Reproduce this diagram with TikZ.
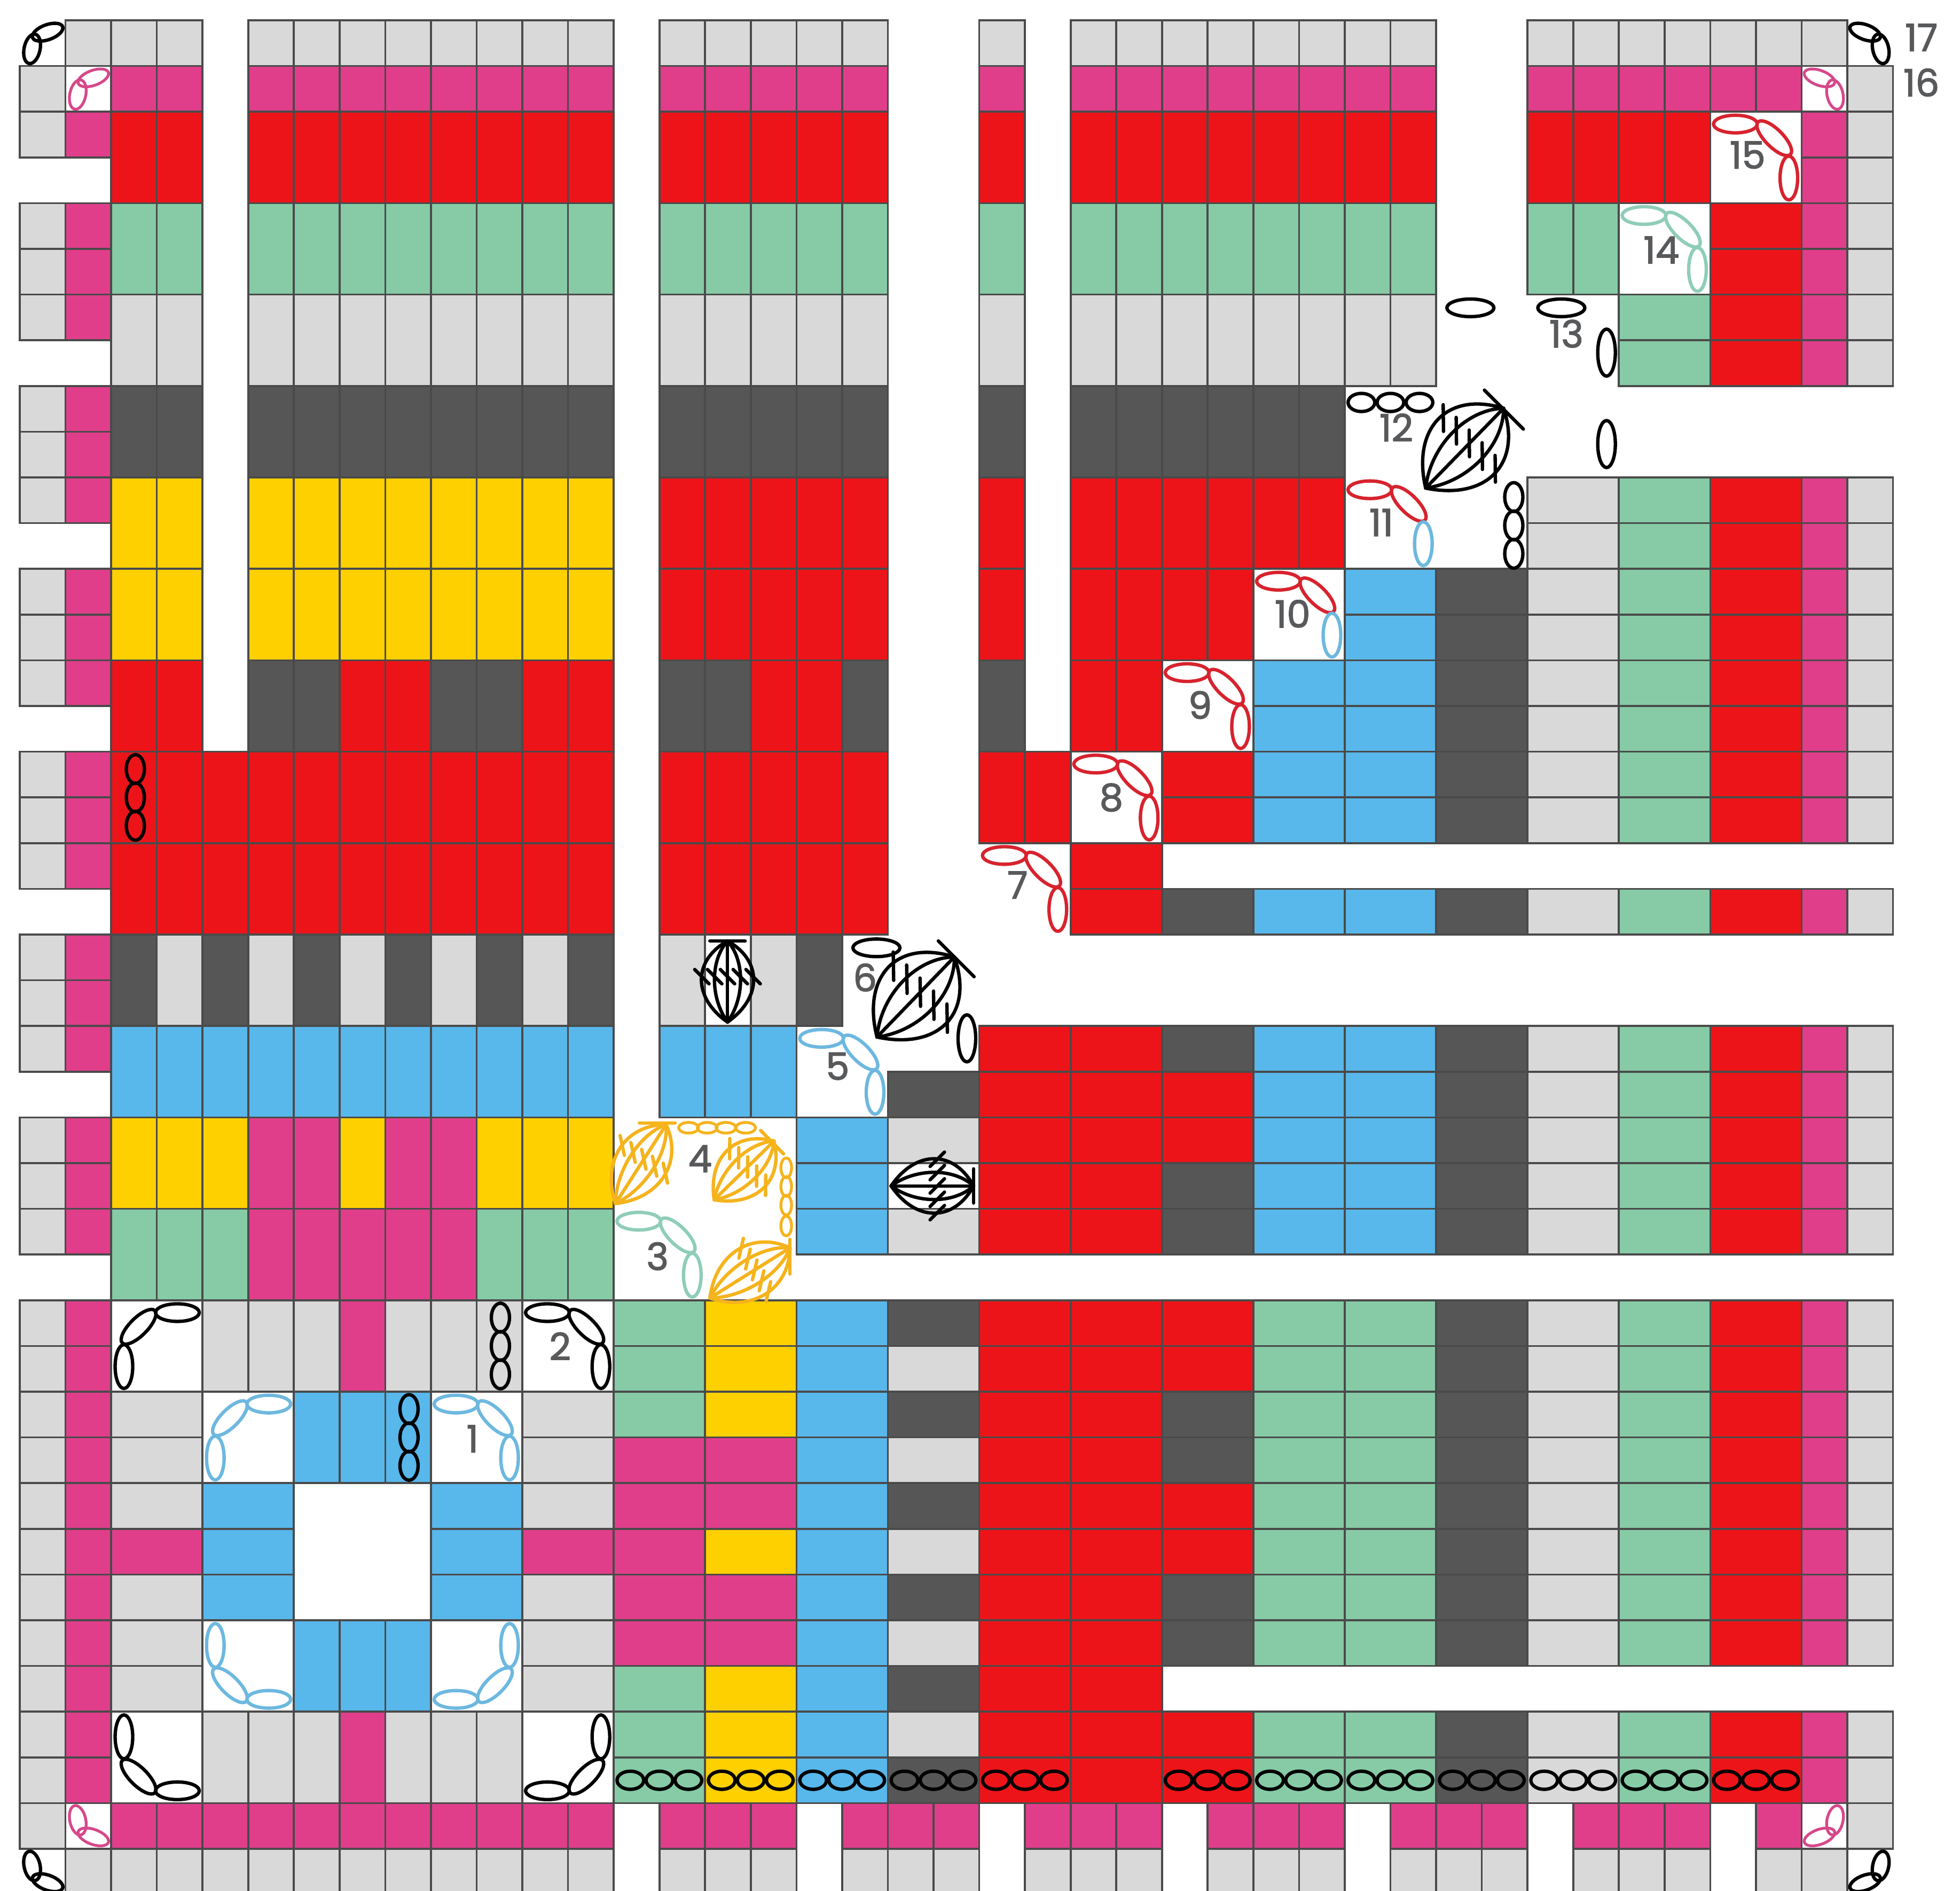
\documentclass[tikz,border=0pt]{standalone}
\usepackage{fontspec}
\setmainfont{Poppins}
\newfontfamily\labfont[FakeBold=2]{Poppins}
\definecolor{cgrey}{HTML}{D9D9D9}
\definecolor{cpink}{HTML}{E03E8B}
\definecolor{cred}{HTML}{ED1419}
\definecolor{cgreen}{HTML}{86CBA6}
\definecolor{cdark}{HTML}{575656}
\definecolor{cyel}{HTML}{FFD000}
\definecolor{cblue}{HTML}{58B7EB}
\definecolor{clin}{HTML}{4A4A4A}
\definecolor{chred}{HTML}{D7232E}
\definecolor{chblue}{HTML}{6DB8DF}
\definecolor{chteal}{HTML}{8FCDB8}
\definecolor{chpink}{HTML}{D6488A}
\definecolor{chorg}{HTML}{F5B31C}
\definecolor{clab}{HTML}{58595B}
\tikzset{
  cellb/.style={draw=clin,line width=1.05pt,line join=miter},
  chn/.style={line width=1.8pt},
  chnthin/.style={line width=1.5pt},
  lab/.style={text=clab,font=\labfont\fontsize{20}{20}\selectfont,inner sep=0pt,anchor=center},
}
% colour, first col, first row, n across, n down, cell w, cell h
\newcommand\Cb[7]{\foreach \i in {1,...,#4}{\foreach \j in {1,...,#5}{
  \draw[cellb,fill=#1] ({#2+(\i-1)*#6},{#3+(\j-1)*#7}) rectangle ++(#6,#7);}}}
\newcommand\Corner[6]{\begin{scope}[shift={(#1+1,#2+1)},xscale=#3,yscale=#4]
  \draw[chn,#5,shift={(-.45,-.73)}] (0,0) ellipse (.41cm and .165cm);
  \draw[chn,#5,shift={(.40,-.42)},rotate=-45] (0,0) ellipse (.43cm and .165cm);
  \draw[chn,#6,shift={(.72,.45)}] (0,0) ellipse (.165cm and .41cm);
\end{scope}}
\newcommand\SmallC[6]{\begin{scope}[shift={(#1+.5,#2+.5)},xscale=#3,yscale=#4]
  \draw[#6,#5,shift={(.11,-.24)},rotate=20] (0,0) ellipse (.3cm and .14cm);
  \draw[#6,#5,shift={(-.23,.125)},rotate=78] (0,0) ellipse (.28cm and .15cm);
\end{scope}}
\newcommand\HThree[2]{\foreach \k in {-1,0,1}{\draw[chn,black] ({#1+\k*.635},#2) ellipse (.25cm and .17cm);}}
\newcommand\VThree[2]{\foreach \k in {-1,0,1}{\draw[chn,black] (#1,{#2+\k*.62}) ellipse (.17cm and .27cm);}}
% colour, Tx,Ty,Fx,Fy, half width, tick spacing, tick length (in px scope)
\newcommand\Clus[8]{%
  \pgfmathsetmacro\cang{atan2(-(#5-#3),#4-#2)}%
  \pgfmathsetmacro\clen{veclen(#4-#2,#5-#3)}%
  \begin{scope}[shift={(#2,#3)},rotate=\cang,x=.01cm,y=.01cm,#1,line cap=round,line join=round]
    \foreach \s in {-1,-.5,0,.5,1}{
      \draw (0,0) .. controls ({.3*\clen},{\s*#6*1.36}) and ({.76*\clen},{\s*#6*1.36}) .. (\clen,0);}
    \foreach \s in {-2,-1,0,1,2}{
      \draw ({.56*\clen-.354*#8},{\s*#7-.354*#8}) -- ({.56*\clen+.354*#8},{\s*#7+.354*#8});}
  \end{scope}}
\begin{document}
\begin{tikzpicture}
\useasboundingbox (0,0) rectangle (36.7,-35.4);
\fill[white] (0,0) rectangle (36.7,-35.4);
\begin{scope}[shift={(0.37,-0.38)},x=0.8555cm,y=-0.856cm]
% left strip
\foreach \r in {2,4,5,6,8,9,10,12,13,14,16,17,18,20,21,22,24,25,26,28,29,30,31,32,33,34,35,36,37,38}{
  \Cb{cgrey}{0}{\r}{1}{1}{1}{1}\Cb{cpink}{1}{\r}{1}{1}{1}{1}}
\Cb{cgrey}{0}{1}{1}{1}{1}{1}
\Cb{cgrey}{0}{39}{1}{1}{1}{1}
% row 0 and 1
\foreach \c/\n in {1/3,5/8,14/5,21/1,23/8,33/7}{\Cb{cgrey}{\c}{0}{\n}{1}{1}{1}}
\foreach \c/\n in {2/2,5/8,14/5,21/1,23/8,33/6}{\Cb{cpink}{\c}{1}{\n}{1}{1}{1}}
\Cb{cgrey}{40}{1}{1}{1}{1}{1}
% spokes
\foreach \c/\n in {2/2,5/8,14/5,21/1,23/8,33/4}{\Cb{cred}{\c}{2}{\n}{1}{1}{2}}
\foreach \c/\n in {2/2,5/8,14/5,21/1,23/8,33/2}{\Cb{cgreen}{\c}{4}{\n}{1}{1}{2}}
\foreach \c/\n in {2/2,5/8,14/5,21/1,23/8}{\Cb{cgrey}{\c}{6}{\n}{1}{1}{2}}
\foreach \c/\n in {2/2,5/8,14/5,21/1,23/6}{\Cb{cdark}{\c}{8}{\n}{1}{1}{2}}
\foreach \c/\n in {2/2,5/8}{\Cb{cyel}{\c}{10}{\n}{1}{1}{2}\Cb{cyel}{\c}{12}{\n}{1}{1}{2}}
\foreach \c/\n in {14/5,21/1,23/6}{\Cb{cred}{\c}{10}{\n}{1}{1}{2}}
\foreach \c/\n in {14/5,21/1,23/4}{\Cb{cred}{\c}{12}{\n}{1}{1}{2}}
\foreach \c/\n in {2/2,7/2,11/2,16/2,23/2}{\Cb{cred}{\c}{14}{\n}{1}{1}{2}}
\foreach \c/\n in {5/2,9/2,14/2,18/1,21/1}{\Cb{cdark}{\c}{14}{\n}{1}{1}{2}}
\foreach \c/\n in {2/11,14/5,21/2}{\Cb{cred}{\c}{16}{\n}{1}{1}{2}}
\foreach \c/\n in {2/11,14/5}{\Cb{cred}{\c}{18}{\n}{1}{1}{2}}
\foreach \c in {2,4,6,8,10,12,17}{\Cb{cdark}{\c}{20}{1}{1}{1}{2}}
\foreach \c in {3,5,7,9,11,14,16}{\Cb{cgrey}{\c}{20}{1}{1}{1}{2}}
\foreach \c/\n in {2/11,14/3}{\Cb{cblue}{\c}{22}{\n}{1}{1}{2}}
\foreach \c/\n in {2/3,7/1,10/3}{\Cb{cyel}{\c}{24}{\n}{1}{1}{2}}
\foreach \c/\n in {5/2,8/2}{\Cb{cpink}{\c}{24}{\n}{1}{1}{2}}
\foreach \c/\n in {2/3,10/3}{\Cb{cgreen}{\c}{26}{\n}{1}{1}{2}}
\Cb{cpink}{5}{26}{5}{1}{1}{2}
% top right corner
\Cb{cpink}{39}{2}{1}{6}{1}{1}\Cb{cgrey}{40}{2}{1}{6}{1}{1}
\Cb{cred}{37}{4}{1}{4}{2}{1}
\Cb{cgreen}{35}{6}{1}{2}{2}{1}
% right-hand stripes
\foreach \r in {10,...,17,19,22,23,24,25,26,28,29,30,31,32,33,34,35,37,38}{
  \Cb{cgrey}{33}{\r}{1}{1}{2}{1}\Cb{cgreen}{35}{\r}{1}{1}{2}{1}\Cb{cred}{37}{\r}{1}{1}{2}{1}
  \Cb{cpink}{39}{\r}{1}{1}{1}{1}\Cb{cgrey}{40}{\r}{1}{1}{1}{1}}
\foreach \r in {12,...,17,19,22,23,24,25,26,28,29,30,31,32,33,34,35,37,38}{\Cb{cdark}{31}{\r}{1}{1}{2}{1}}
\foreach \r in {12,...,17,19,22,23,24,25,26}{\Cb{cblue}{29}{\r}{1}{1}{2}{1}}
\foreach \r in {14,...,17,19,22,23,24,25,26}{\Cb{cblue}{27}{\r}{1}{1}{2}{1}}
\foreach \r in {28,29,30,31,32,33,34,35,37,38}{\Cb{cgreen}{27}{\r}{2}{1}{2}{1}}
\foreach \r in {16,17,23,24,28,29,32,33,37,38}{\Cb{cred}{25}{\r}{1}{1}{2}{1}}
\foreach \r in {19,22,25,26,30,31,34,35}{\Cb{cdark}{25}{\r}{1}{1}{2}{1}}
\foreach \r in {18,19,22,23,24,25,26,28,29,...,38}{\Cb{cred}{23}{\r}{1}{1}{2}{1}}
\foreach \r in {22,23,24,25,26,28,29,...,38}{\Cb{cred}{21}{\r}{1}{1}{2}{1}}
\foreach \r in {24,25,26,28,29,...,38}{\Cb{cblue}{17}{\r}{1}{1}{2}{1}}
\foreach \r in {23,28,30,32,34,36,38}{\Cb{cdark}{19}{\r}{1}{1}{2}{1}}
\foreach \r in {24,26,29,31,33,35,37}{\Cb{cgrey}{19}{\r}{1}{1}{2}{1}}
\foreach \r in {28,29,30,36,37,38}{\Cb{cgreen}{13}{\r}{1}{1}{2}{1}\Cb{cyel}{15}{\r}{1}{1}{2}{1}}
\foreach \r in {31,32,34,35}{\Cb{cpink}{13}{\r}{2}{1}{2}{1}}
\Cb{cpink}{13}{33}{1}{1}{2}{1}\Cb{cyel}{15}{33}{1}{1}{2}{1}
% bottom-left square
\foreach \c/\n in {4/3,8/3}{\Cb{cgrey}{\c}{28}{\n}{1}{1}{2}\Cb{cgrey}{\c}{37}{\n}{1}{1}{2}}
\Cb{cpink}{7}{28}{1}{1}{1}{2}\Cb{cpink}{7}{37}{1}{1}{1}{2}
\foreach \c in {2,11}{
  \foreach \r in {30,31,32,34,35,36}{\Cb{cgrey}{\c}{\r}{1}{1}{2}{1}}
  \Cb{cpink}{\c}{33}{1}{1}{2}{1}}
\foreach \c in {4,9}{\Cb{cblue}{\c}{32}{1}{3}{2}{1}}
\Cb{cblue}{6}{30}{3}{1}{1}{2}\Cb{cblue}{6}{35}{3}{1}{1}{2}
% rows 39 and 40
\foreach \c/\n in {2/11,14/3,18/3,22/3,26/3,30/3,34/3,38/1}{\Cb{cpink}{\c}{39}{\n}{1}{1}{1}}
\Cb{cgrey}{40}{39}{1}{1}{1}{1}
\foreach \c/\n in {1/12,14/3,18/3,22/3,26/3,30/3,34/3,38/2}{\Cb{cgrey}{\c}{40}{\n}{1}{1}{1}}
% three-loop corners
\Corner{2}{28}{-1}{1}{black}{black}
\Corner{11}{28}{1}{1}{black}{black}
\Corner{2}{37}{-1}{-1}{black}{black}
\Corner{11}{37}{1}{-1}{black}{black}
\Corner{4}{30}{-1}{1}{chblue}{chblue}
\Corner{9}{30}{1}{1}{chblue}{chblue}
\Corner{4}{35}{-1}{-1}{chblue}{chblue}
\Corner{9}{35}{1}{-1}{chblue}{chblue}
\Corner{13}{26}{1}{1}{chteal}{chteal}
\Corner{17}{22}{1}{1}{chblue}{chblue}
\Corner{21}{18}{1}{1}{chred}{chred}
\Corner{23}{16}{1}{1}{chred}{chred}
\Corner{25}{14}{1}{1}{chred}{chred}
\Corner{27}{12}{1}{1}{chred}{chblue}
\Corner{29}{10}{1}{1}{chred}{chblue}
\Corner{35}{4}{1}{1}{chteal}{chteal}
\Corner{37}{2}{1}{1}{chred}{chred}
% two-loop corners
\SmallC{0}{0}{1}{1}{black}{chn}
\SmallC{40}{0}{-1}{1}{black}{chn}
\SmallC{0}{40}{1}{-1}{black}{chn}
\SmallC{40}{40}{-1}{-1}{black}{chn}
\SmallC{1}{1}{1}{1}{chpink}{chnthin}
\SmallC{39}{1}{-1}{1}{chpink}{chnthin}
\SmallC{1}{39}{1}{-1}{chpink}{chnthin}
\SmallC{39}{39}{-1}{-1}{chpink}{chnthin}
% chains
\foreach \c in {14,16,18,20,22,26,28,30,32,34,36,38}{\HThree{\c}{38.5}}
\HThree{30}{8.36}
\VThree{10.52}{29}
\VThree{8.52}{31}
\VThree{2.53}{17}
\VThree{32.7}{11.05}
% single loops
\draw[chn,black] (31.75,6.29) ellipse (.44cm and .165cm);
\draw[chn,black] (33.74,6.29) ellipse (.44cm and .165cm);
\draw[chn,black] (34.73,7.27) ellipse (.165cm and .44cm);
\draw[chn,black] (34.73,9.27) ellipse (.165cm and .44cm);
\draw[chn,black] (18.75,20.29) ellipse (.44cm and .165cm);
\draw[chn,black] (20.73,22.27) ellipse (.165cm and .44cm);
\end{scope}
% clusters, in full-size pixels
\begin{scope}[x=.01cm,y=-.01cm,line width=1.8pt]
\Clus{black}{1363}{1915}{1363}{1763}{48}{24}{38}
\draw[black,line cap=round] (1330,1763) -- (1396,1763);
\Clus{black}{1669.5}{2222}{1824}{2222}{50}{25}{38}
\draw[black,line cap=round] (1824,2190) -- (1824,2254);
\Clus{black}{1643}{1943}{1788}{1793}{74}{35}{53}
\draw[black,line cap=round] (1758,1763) -- (1825,1830);
\Clus{black}{2671}{914.5}{2817}{765}{72}{34}{50}
\draw[black,line cap=round] (2781,731) -- (2854,804);
\Clus{chorg}{1153}{2255}{1248}{2107}{48}{24}{38}
\draw[chorg,line cap=round] (1198,2104) -- (1265,2104);
\Clus{chorg}{1338}{2248}{1450}{2138}{48}{24}{38}
\draw[chorg,line cap=round] (1425,2118) -- (1468,2162);
\Clus{chorg}{1330}{2432}{1480}{2338}{48}{24}{38}
\draw[chorg,line cap=round] (1480,2322) -- (1480,2387);
\foreach \p in {1290,1325,1360,1397}{\draw[chorg,line width=1.5pt] (\p,2113) ellipse (.185cm and .1cm);}
\foreach \p in {2188,2223,2258,2297}{\draw[chorg,line width=1.5pt] (1473,\p) ellipse (.1cm and .185cm);}
\end{scope}
% labels
\begin{scope}[x=.023406cm,y=-.023406cm]
\node[lab] (n17) at (1537,30) {17};
\node[lab] (n16) at (1537,66) {16};
\node[lab] (n15) at (1398,124) {15};
\node[lab] (n14) at (1329,200) {14};
\node[lab] (n13) at (1253,267) {13};
\node[lab] (n12) at (1117,342) {12};
\node[lab] (n11) at (1105,418) {11};
\node[lab] (n10) at (1034,491) {10};
\node[lab] (n9) at (960,564) {9};
\node[lab] (n8) at (889,638) {8};
\node[lab] (n7) at (814,708) {7};
\node[lab] (n6) at (692,782) {6};
\node[lab] (n5) at (670,853) {5};
\node[lab] (n4) at (560,927) {4};
\node[lab] (n3) at (526,1005) {3};
\node[lab] (n2) at (448,1077) {2};
\node[lab] (n1) at (378,1151) {1};
\end{scope}
\end{tikzpicture}
\end{document}
